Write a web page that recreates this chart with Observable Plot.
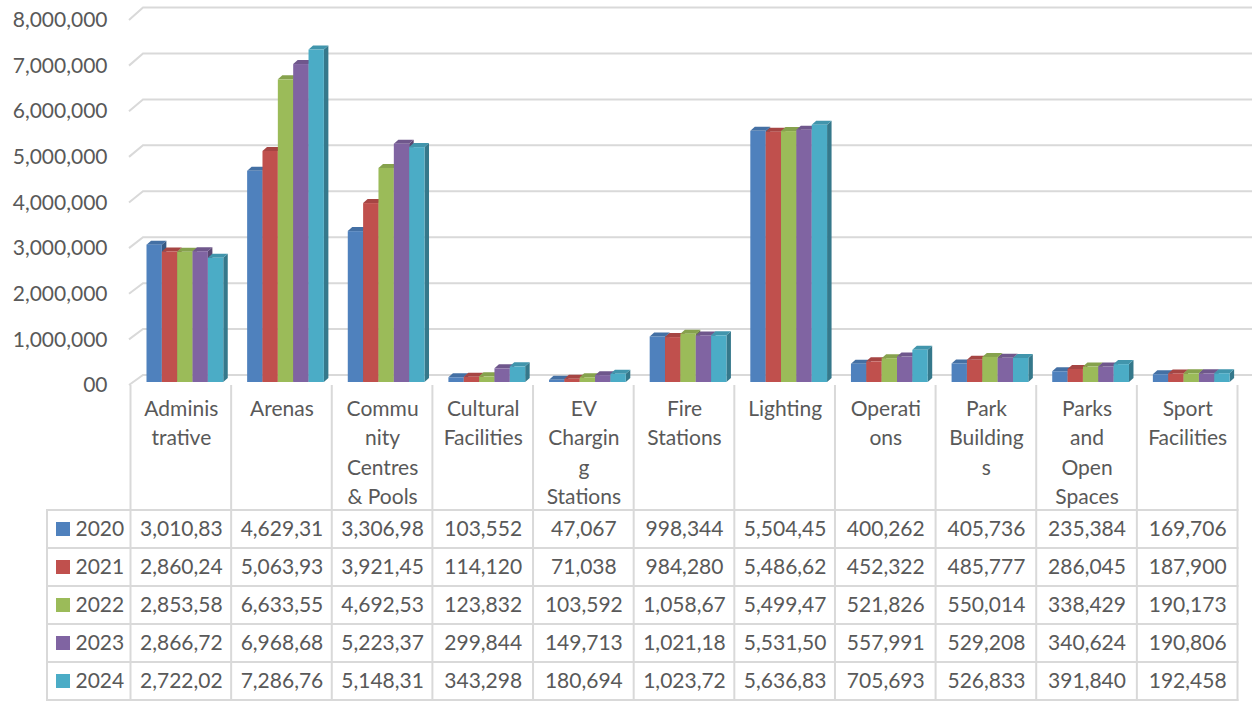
<!DOCTYPE html>
<html><head><meta charset="utf-8">
<script src="https://cdn.jsdelivr.net/npm/d3@7"></script>
<script src="https://cdn.jsdelivr.net/npm/@observablehq/plot@0.6"></script>
<style>
html,body{margin:0;padding:0;background:#fff;}
#chart{width:1252px;height:701px;overflow:hidden;}
svg{display:block;}
</style></head><body><div id="chart"></div>
<script>
const categories = ["Administrative","Arenas","Community Centres & Pools","Cultural Facilities","EV Charging Stations","Fire Stations","Lighting","Operations","Park Buildings","Parks and Open Spaces","Sport Facilities"];
const categoryLines = [["Adminis","trative"],["Arenas"],["Commu","nity","Centres","& Pools"],["Cultural","Facilities"],["EV","Chargin","g","Stations"],["Fire","Stations"],["Lighting"],["Operati","ons"],["Park","Building","s"],["Parks","and","Open","Spaces"],["Sport","Facilities"]];
const years = ["2020","2021","2022","2023","2024"];
const colors = ["#4F81BD","#C0504D","#9BBB59","#8064A2","#4BACC6"];
const v2020 = [3010830,4629310,3306980,103552,47067,998344,5504450,400262,405736,235384,169706];
const v2021 = [2860240,5063930,3921450,114120,71038,984280,5486620,452322,485777,286045,187900];
const v2022 = [2853580,6633550,4692530,123832,103592,1058670,5499470,521826,550014,338429,190173];
const v2023 = [2866720,6968680,5223370,299844,149713,1021180,5531500,557991,529208,340624,190806];
const v2024 = [2722020,7286760,5148310,343298,180694,1023720,5636830,705693,526833,391840,192458];
const yTicks = [0,1000000,2000000,3000000,4000000,5000000,6000000,7000000,8000000];
const yTickLabels = ["00","1,000,000","2,000,000","3,000,000","4,000,000","5,000,000","6,000,000","7,000,000","8,000,000"];

const series = [v2020, v2021, v2022, v2023, v2024];
const fontFamily = "Lato, 'Open Sans', sans-serif";
const textColor = "#595959";
const gridColor = "#d9d9d9";
const rowEdges = [510, 548, 586, 624, 662, 700];
const rowCenters = rowEdges.slice(0, 5).map((e, i) => (e + rowEdges[i + 1]) / 2);
const fmtCell = v => d3.format(",")(v).slice(0, 8);

function gridMark(index, scales) {
  const g = d3.create("svg:g");
  const y = scales.y;
  const y0 = y(0);
  for (const v of yTicks) {
    const f = y(v) + 3;
    const b = 375 + (y(v) - y0) * 367.5 / 365;
    g.append("path").attr("d", `M129,${f}L143,${b}L1252,${b}`)
      .attr("fill", "none").attr("stroke", gridColor).attr("stroke-width", 2);
  }
  return g.node();
}

function barsMark(index, scales) {
  const g = d3.create("svg:g");
  const x = scales.x, y = scales.y;
  const barW = 15.35, off = 16, dx = 4.5, dy = 4;
  categories.forEach((c, j) => {
    const x0 = x(c) + off;
    series.forEach((s, i) => {
      const v = s[j];
      const l = x0 + i * barW, r = l + barW, t = y(v), b = y(0);
      const col = d3.color(colors[i]);
      g.append("path").attr("d", `M${r},${t}L${r + dx},${t - dy}L${r + dx},${b - dy}L${r},${b}Z`)
        .attr("fill", col.darker(1.0).formatHex());
      g.append("path").attr("d", `M${l},${t}L${l + dx},${t - dy}L${r + dx},${t - dy}L${r},${t}Z`)
        .attr("fill", col.darker(0.4).formatHex());
      g.append("rect").attr("x", l).attr("y", t).attr("width", barW).attr("height", b - t)
        .attr("fill", colors[i]);
    });
  });
  return g.node();
}

function tableMark(index, scales) {
  const g = d3.create("svg:g");
  const x = scales.x;
  const bw = x.bandwidth();
  const xs = categories.map(c => x(c)).concat([x(categories[categories.length - 1]) + bw]);
  for (const xv of xs) {
    g.append("line").attr("x1", xv).attr("x2", xv).attr("y1", 385).attr("y2", 701)
      .attr("stroke", gridColor).attr("stroke-width", 2);
  }
  g.append("line").attr("x1", 47).attr("x2", 47).attr("y1", 509).attr("y2", 701)
    .attr("stroke", gridColor).attr("stroke-width", 2);
  for (const e of rowEdges) {
    g.append("line").attr("x1", 46).attr("x2", xs[xs.length - 1] + 1).attr("y1", e).attr("y2", e)
      .attr("stroke", gridColor).attr("stroke-width", 2);
  }
  years.forEach((yr, i) => {
    g.append("rect").attr("x", 56).attr("y", rowCenters[i] - 7).attr("width", 14).attr("height", 14)
      .attr("fill", colors[i]);
  });
  return g.node();
}

const base = 382;
const marks = [
  gridMark,
  tableMark,
  barsMark,
  Plot.text(yTicks, {y: d => d, frameAnchor: "left", dx: -23.5, dy: 3, text: (d, i) => yTickLabels[i], textAnchor: "end", fontSize: 21, fill: textColor}),
  Plot.text(categories, {x: d => d, y: () => 0, dy: 12.5, text: (d, i) => categoryLines[i].join("\n"), lineAnchor: "top", lineHeight: 1.4, fontSize: 21, fill: textColor})
];
years.forEach((yr, i) => {
  marks.push(Plot.text(categories, {x: d => d, y: () => 0, dy: rowCenters[i] - base, text: (d, j) => fmtCell(series[i][j]), fontSize: 21, fill: textColor}));
  marks.push(Plot.text([yr], {frameAnchor: "left", y: () => 0, dx: 75 - 130.5, dy: rowCenters[i] - base, text: d => d, textAnchor: "start", fontSize: 21, fill: textColor}));
});

const chart = Plot.plot({
  width: 1252,
  height: 701,
  marginLeft: 130.5,
  marginRight: 14.5,
  marginTop: 17,
  marginBottom: 701 - base,
  style: {fontFamily, background: "#fff", color: textColor},
  x: {type: "band", domain: categories, padding: 0, round: false, axis: null},
  y: {domain: [0, 8000000], axis: null},
  marks
});
document.getElementById("chart").appendChild(chart);
</script>
</body></html>
